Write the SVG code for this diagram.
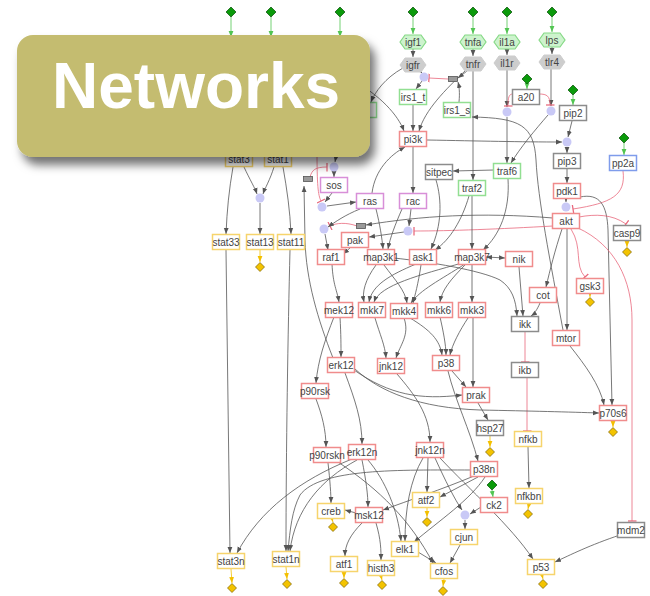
<svg xmlns="http://www.w3.org/2000/svg" xmlns:xlink="http://www.w3.org/1999/xlink" width="650" height="596" viewBox="0 0 650 596">
<style>
.n rect{fill:#fff;stroke-width:1.5}
.r rect{stroke:#f08c8c}.g rect{stroke:#92df92}.m rect{stroke:#d88fd8}.k rect{stroke:#8c8c8c}.y rect{stroke:#f6d46c}.b rect{stroke:#7f9ceb}
text{font-family:"Liberation Sans",Arial,sans-serif;font-size:10px;fill:#444;text-anchor:middle;dominant-baseline:central}
.hg polygon{fill:#cdf3cd;stroke:#86d986;stroke-width:1.2}
.hk polygon{fill:#cdcdcd;stroke:#cdcdcd;stroke-width:1}
.c circle{fill:#c9c9f6}
.sw rect{fill:#9a9a9a;stroke:#555;stroke-width:0.8}
.e path{fill:none;stroke:#555;stroke-width:0.8;marker-end:url(#a)}
.e path.i{stroke:#e8687c;marker-end:url(#t)}
.e path.gr{stroke:#52c552;marker-end:url(#ag)}
.e path.ye{stroke:#f3c000;marker-end:url(#ay)}
.e path.both{marker-start:url(#as)}
</style>
<defs>
<marker id="a" viewBox="0 0 10 10" refX="10" refY="5" markerWidth="6" markerHeight="6" orient="auto" markerUnits="userSpaceOnUse"><path d="M0,1 L10,5 L0,9z" fill="#555"/></marker>
<marker id="as" viewBox="0 0 10 10" refX="0" refY="5" markerWidth="6" markerHeight="6" orient="auto" markerUnits="userSpaceOnUse"><path d="M10,1 L0,5 L10,9z" fill="#555"/></marker>
<marker id="ag" viewBox="0 0 10 10" refX="10" refY="5" markerWidth="6" markerHeight="6" orient="auto" markerUnits="userSpaceOnUse"><path d="M0,1 L10,5 L0,9z" fill="#52c552"/></marker>
<marker id="ay" viewBox="0 0 10 10" refX="10" refY="5" markerWidth="6" markerHeight="6" orient="auto" markerUnits="userSpaceOnUse"><path d="M0,1 L10,5 L0,9z" fill="#f3c000"/></marker>
<marker id="t" viewBox="0 0 4 10" refX="3" refY="5" markerWidth="4" markerHeight="9" orient="auto" markerUnits="userSpaceOnUse"><path d="M3,0 L3,10" stroke="#e8687c" stroke-width="1.4"/></marker>
<path id="dy" d="M0,-4.5 L4.5,0 L0,4.5 L-4.5,0Z" fill="#f3c300" stroke="#7a6000" stroke-width="0.7"/>
<path id="dg" d="M0,-5 L5,0 L0,5 L-5,0Z" fill="#0a9a0a" stroke="#064a06" stroke-width="0.7"/>
<filter id="sh" x="-10%" y="-20%" width="130%" height="150%"><feDropShadow dx="5" dy="8" stdDeviation="5" flood-color="#000" flood-opacity="0.55"/></filter>
</defs>
<rect width="650" height="596" fill="#fff"/>

<g id="connectors" class="e">
<!-- green inputs -->
<path class="gr" d="M231,17 L231,37"/>
<path class="gr" d="M271,17 L271,37"/>
<path class="gr" d="M340,17 L340,37"/>
<path class="gr" d="M413,17 L413,34"/>
<path class="gr" d="M473,17 L473,34"/>
<path class="gr" d="M507,17 L507,34"/>
<path class="gr" d="M552,17 L552,32"/>
<path class="gr" d="M527,84 L527,89"/>
<path class="gr" d="M573,95 L573,105"/>
<path class="gr" d="M624,143 L624,155"/>
<path class="gr" d="M492,490 L493,497"/>
<!-- receptors -->
<path d="M413,49 L413,57"/>
<path d="M473,49 L473,56"/>
<path d="M507,49 L507,55"/>
<path d="M552,47 L552,54"/>
<path d="M419,70 L422,73"/>
<path d="M422,81 L416,89"/>
<path d="M403,68 C385,78 375,92 371,102"/>
<path d="M352,80 C380,95 398,115 404,131"/>
<path d="M466,70 C445,90 425,110 419,131"/>
<path d="M467,71 L458,78"/>
<path d="M459,102 C460,92 459,86 458,82"/>
<path class="i" d="M448,79 L429,78"/>
<path d="M413,105 L413,131"/>
<path d="M473,71 L473,180"/>
<path d="M507,70 L507,107"/>
<path d="M507,117 L507,163"/>
<path d="M551,69 L551,106"/>
<path d="M548,115 C535,130 520,148 511,163"/>
<path class="i" d="M513,94 C509,94 508,97 508,106"/>
<path class="i" d="M539,94 C547,94 550,96 550,105"/>
<path d="M572,121 L568,137"/>
<path d="M427,140 C480,141 520,142 562,142"/>
<path d="M567,147 L567,153"/>
<path d="M567,169 L567,183"/>
<path d="M566,199 L566,202"/>
<path class="i" d="M623,171 C626,195 612,203 573,209"/>
<path d="M580,197 C600,193 607,205 608,230 L612,405"/>
<path d="M570,346 C585,365 600,385 604,405"/>
<path d="M563,330 C550,260 538,200 536,160 C534,125 520,118 472,117"/>
<path d="M562,229 C555,250 550,270 546,287"/>
<path d="M567,229 L567,330"/>
<path class="i" d="M579,217 C595,214 612,214 626,224"/>
<path class="i" d="M571,229 C583,248 574,265 585,277"/>
<path class="i" d="M578,228 C615,245 632,280 632,320 L632,521"/>
<path class="i" d="M553,226 C500,229 450,231 414,231"/>
<path d="M553,218 C480,212 420,216 366,225"/>
<path class="i" d="M357,226 C346,222 336,223 330,226"/>
<!-- ras/raf area -->
<path d="M360,209 C345,215 335,222 328,227"/>
<path d="M325,234 L328,250"/>
<path d="M350,248 L343,254"/>
<path d="M411,209 L409,226"/>
<path d="M404,232 L369,237"/>
<path d="M372,193 C375,170 390,155 405,147"/>
<path d="M413,147 L413,193"/>
<path d="M332,193 L325,202"/>
<path d="M327,206 L356,202"/>
<path d="M334,172 L334,177"/>
<path d="M339,140 L335,162"/>
<path class="i" d="M310,177 C312,170 315,167 327,167"/>
<path class="i" d="M317,150 C317,185 318,195 321,201"/>
<path d="M333,358 C318,320 306,280 305,240 L304,186"/>
<!-- stats -->
<path d="M244,167 C250,180 255,188 257,194"/>
<path d="M274,167 C270,180 265,188 263,194"/>
<path d="M260,203 L260,234"/>
<path d="M233,167 C229,190 227,210 226,234"/>
<path d="M283,167 C287,190 290,210 291,234"/>
<path class="ye" d="M260,250 L260,262"/>
<path d="M226,250 L230,553"/>
<path d="M290,250 C288,330 286,450 286,551"/>
<!-- MAP3K layer -->
<path d="M376,209 C380,225 382,238 383,249"/>
<path d="M402,209 C395,225 390,238 388,249"/>
<path d="M436,180 C442,200 442,225 431,249"/>
<path d="M469,196 C462,220 450,240 435,250"/>
<path d="M472,196 L472,249"/>
<path d="M508,179 C510,210 500,235 483,250"/>
<path d="M494,170 L453,171"/>
<path class="both" d="M486,257 L505,258"/>
<path d="M519,267 L523,316"/>
<path d="M540,303 C537,310 534,314 531,316"/>
<path d="M394,258 C430,262 480,270 500,280 C512,288 516,300 517,316"/>
<path class="i" d="M525,332 L525,362"/>
<path class="i" d="M527,378 L527,431"/>
<path d="M528,447 L529,488"/>
<!-- MAP2K layer -->
<path d="M376,265 C365,280 362,292 364,302"/>
<path d="M384,265 C395,280 405,290 407,303"/>
<path d="M421,265 C418,285 415,295 413,303"/>
<path d="M416,264 C390,275 372,285 369,302"/>
<path d="M462,263 C420,275 380,285 374,302"/>
<path d="M465,264 C440,280 420,290 411,303"/>
<path d="M466,264 C450,280 442,290 440,302"/>
<path d="M472,264 L472,302"/>
<path d="M332,264 C333,285 337,290 339,302"/>
<!-- MAPK layer -->
<path d="M340,317 C341,335 341,345 341,357"/>
<path d="M334,317 C325,340 318,360 316,383"/>
<path d="M375,318 C380,335 385,345 386,358"/>
<path d="M404,318 C410,335 400,345 396,358"/>
<path d="M410,318 C430,330 440,340 442,355"/>
<path d="M440,317 C443,330 446,345 446,355"/>
<path d="M468,318 C460,330 452,345 450,355"/>
<path d="M473,318 L473,387"/>
<path d="M452,371 L466,387"/>
<path d="M354,370 C390,395 420,400 462,395"/>
<path d="M355,369 C380,392 420,408 480,410 C530,411 570,412 599,413"/>
<path d="M345,373 C355,400 362,420 362,444"/>
<path d="M316,399 C322,415 326,430 326,447"/>
<path d="M397,374 C415,395 430,415 430,442"/>
<path d="M448,371 C455,400 470,430 478,461"/>
<path d="M478,403 L488,420"/>
<path class="ye" d="M490,436 L490,447"/>
<path class="ye" d="M613,421 L613,427"/>
<path class="ye" d="M627,241 L627,247"/>
<path class="ye" d="M590,294 L590,297"/>
<!-- nuclear -->
<path d="M328,463 C330,480 331,495 331,503"/>
<path d="M338,462 C380,490 410,520 433,563"/>
<path d="M362,460 C366,480 368,495 368,507"/>
<path d="M368,460 C385,480 398,510 401,541"/>
<path d="M352,459 C300,480 260,510 237,553"/>
<path d="M357,460 C320,480 295,510 290,551"/>
<path d="M471,470 C400,470 320,468 300,495 C292,510 290,530 288,551"/>
<path d="M474,476 C440,490 410,500 383,510"/>
<path d="M478,477 L440,497"/>
<path d="M485,477 C470,500 440,520 414,542"/>
<path d="M428,458 L427,492"/>
<path d="M423,458 C410,480 405,510 405,541"/>
<path d="M435,458 C445,480 455,500 462,510"/>
<path d="M440,458 C470,490 510,525 533,559"/>
<path d="M481,507 L470,514"/>
<path d="M465,520 L465,529"/>
<path d="M460,545 L450,563"/>
<path d="M418,552 L436,563"/>
<path d="M356,513 L345,510"/>
<path d="M362,523 C350,535 345,545 345,556"/>
<path d="M376,523 C381,540 381,550 381,560"/>
<path d="M620,535 C590,545 570,555 555,562"/>
<path class="ye" d="M332,519 L333,522"/>
<path class="ye" d="M427,508 L427,517"/>
<path class="ye" d="M444,579 L443,586"/>
<path class="ye" d="M381,576 L382,580"/>
<path class="ye" d="M344,572 L344,578"/>
<path class="ye" d="M286,567 L287,579"/>
<path class="ye" d="M231,569 L232,583"/>
<path class="ye" d="M542,575 L543,579"/>
<path class="ye" d="M529,504 L528,509"/>
</g>

<g id="inputs">
<use href="#dg" x="231" y="12"/><use href="#dg" x="271" y="12"/><use href="#dg" x="340" y="12"/>
<use href="#dg" x="413" y="12"/><use href="#dg" x="473" y="12"/><use href="#dg" x="507" y="12"/><use href="#dg" x="552" y="12"/>
<use href="#dg" x="527" y="79"/><use href="#dg" x="573" y="90"/><use href="#dg" x="624" y="138"/><use href="#dg" x="492" y="485"/>
</g>
<g id="outputs">
<use href="#dy" x="260" y="267"/><use href="#dy" x="627" y="252"/><use href="#dy" x="590" y="302"/>
<use href="#dy" x="490" y="452"/><use href="#dy" x="613" y="432"/><use href="#dy" x="528" y="514"/>
<use href="#dy" x="333" y="527"/><use href="#dy" x="427" y="522"/><use href="#dy" x="443" y="591"/>
<use href="#dy" x="382" y="585"/><use href="#dy" x="344" y="583"/><use href="#dy" x="287" y="584"/>
<use href="#dy" x="232" y="588"/><use href="#dy" x="543" y="584"/>
</g>

<g id="n-igf1" class="hg"><polygon points="400,42 405,35 421,35 426,42 421,49 405,49"/><text x="413" y="42">igf1</text></g>
<g id="n-igfr" class="hk"><polygon points="400,65 405,58 421,58 426,65 421,72 405,72"/><text x="413" y="65">igfr</text></g>
<g id="n-tnfa" class="hg"><polygon points="460,42 465,35 481,35 486,42 481,49 465,49"/><text x="473" y="42">tnfa</text></g>
<g id="n-tnfr" class="hk"><polygon points="460,64 465,57 481,57 486,64 481,71 465,71"/><text x="473" y="64">tnfr</text></g>
<g id="n-il1a" class="hg"><polygon points="494,42 499,35 515,35 520,42 515,49 499,49"/><text x="507" y="42">il1a</text></g>
<g id="n-il1r" class="hk"><polygon points="494,63 499,56 515,56 520,63 515,70 499,70"/><text x="507" y="63">il1r</text></g>
<g id="n-lps" class="hg"><polygon points="539,40 544,33 560,33 565,40 560,47 544,47"/><text x="552" y="40">lps</text></g>
<g id="n-tlr4" class="hk"><polygon points="539,62 544,55 560,55 565,62 560,69 544,69"/><text x="552" y="62">tlr4</text></g>

<g id="c-irs" class="c"><circle cx="424" cy="77" r="4.5"/></g>
<g id="c-il1" class="c"><circle cx="507" cy="112" r="4.5"/></g>
<g id="c-tlr" class="c"><circle cx="551" cy="111" r="4.5"/></g>
<g id="c-pip" class="c"><circle cx="567" cy="142" r="4.5"/></g>
<g id="c-akt" class="c"><circle cx="566" cy="207" r="4.5"/></g>
<g id="c-sos" class="c"><circle cx="334" cy="167" r="4.5"/></g>
<g id="c-ras" class="c"><circle cx="322" cy="207" r="4.5"/></g>
<g id="c-raf" class="c"><circle cx="324" cy="229" r="4.5"/></g>
<g id="c-pak" class="c"><circle cx="408" cy="231" r="4.5"/></g>
<g id="c-stat" class="c"><circle cx="260" cy="198" r="4.5"/></g>
<g id="c-cjun" class="c"><circle cx="465" cy="515" r="4.5"/></g>

<g id="sw-tnf" class="sw"><rect x="448.5" y="76.5" width="9" height="5"/></g>
<g id="sw-sos" class="sw"><rect x="303.5" y="176.5" width="9" height="5"/></g>
<g id="sw-raf" class="sw"><rect x="356.5" y="223.5" width="9" height="5"/></g>

<g id="n-hidden" class="n g"><rect x="349.5" y="102.5" width="27" height="15"/></g>
<g id="n-stat3" class="n y"><rect x="225.5" y="151.5" width="27" height="15"/><text x="239" y="159">stat3</text></g>
<g id="n-stat1" class="n y"><rect x="264.5" y="151.5" width="27" height="15"/><text x="278" y="159">stat1</text></g>
<g id="n-stat33" class="n y"><rect x="212.5" y="234.5" width="27" height="15"/><text x="226" y="242">stat33</text></g>
<g id="n-stat13" class="n y"><rect x="246.5" y="234.5" width="27" height="15"/><text x="260" y="242">stat13</text></g>
<g id="n-stat11" class="n y"><rect x="277.5" y="234.5" width="27" height="15"/><text x="291" y="242">stat11</text></g>
<g id="n-stat3n" class="n y"><rect x="217.5" y="553.5" width="27" height="15"/><text x="231" y="561">stat3n</text></g>
<g id="n-stat1n" class="n y"><rect x="272.5" y="551.5" width="27" height="15"/><text x="286" y="559">stat1n</text></g>
<g id="n-irs1_t" class="n g"><rect x="399.5" y="89.5" width="27" height="15"/><text x="413" y="97">irs1_t</text></g>
<g id="n-irs1_s" class="n g"><rect x="443.5" y="102.5" width="27" height="15"/><text x="457" y="110">irs1_s</text></g>
<g id="n-a20" class="n k"><rect x="512.5" y="89.5" width="27" height="15"/><text x="526" y="97">a20</text></g>
<g id="n-pip2" class="n k"><rect x="559.5" y="105.5" width="27" height="15"/><text x="573" y="113">pip2</text></g>
<g id="n-pi3k" class="n r"><rect x="399.5" y="131.5" width="27" height="15"/><text x="413" y="139">pi3k</text></g>
<g id="n-pip3" class="n k"><rect x="553.5" y="153.5" width="27" height="15"/><text x="567" y="161">pip3</text></g>
<g id="n-pp2a" class="n b"><rect x="609.5" y="155.5" width="27" height="15"/><text x="623" y="163">pp2a</text></g>
<g id="n-sitpec" class="n k"><rect x="425.5" y="164.5" width="27" height="15"/><text x="439" y="172">sitpec</text></g>
<g id="n-traf6" class="n g"><rect x="493.5" y="163.5" width="27" height="15"/><text x="507" y="171">traf6</text></g>
<g id="n-traf2" class="n g"><rect x="458.5" y="180.5" width="27" height="15"/><text x="472" y="188">traf2</text></g>
<g id="n-pdk1" class="n r"><rect x="553.5" y="183.5" width="27" height="15"/><text x="567" y="191">pdk1</text></g>
<g id="n-akt" class="n r"><rect x="552.5" y="213.5" width="27" height="15"/><text x="566" y="221">akt</text></g>
<g id="n-casp9" class="n k"><rect x="613.5" y="225.5" width="27" height="15"/><text x="627" y="233">casp9</text></g>
<g id="n-sos" class="n m"><rect x="320.5" y="177.5" width="27" height="15"/><text x="334" y="185">sos</text></g>
<g id="n-ras" class="n m"><rect x="356.5" y="193.5" width="27" height="15"/><text x="370" y="201">ras</text></g>
<g id="n-rac" class="n m"><rect x="399.5" y="193.5" width="27" height="15"/><text x="413" y="201">rac</text></g>
<g id="n-pak" class="n r"><rect x="341.5" y="232.5" width="27" height="15"/><text x="355" y="240">pak</text></g>
<g id="n-raf1" class="n r"><rect x="317.5" y="249.5" width="27" height="15"/><text x="331" y="257">raf1</text></g>
<g id="n-map3k1" class="n r"><rect x="367.5" y="249.5" width="27" height="15"/><text x="381" y="257">map3k1</text></g>
<g id="n-ask1" class="n r"><rect x="409.5" y="249.5" width="27" height="15"/><text x="423" y="257">ask1</text></g>
<g id="n-map3k7" class="n r"><rect x="458.5" y="249.5" width="27" height="15"/><text x="472" y="257">map3k7</text></g>
<g id="n-nik" class="n r"><rect x="505.5" y="251.5" width="27" height="15"/><text x="519" y="259">nik</text></g>
<g id="n-gsk3" class="n r"><rect x="576.5" y="278.5" width="27" height="15"/><text x="590" y="286">gsk3</text></g>
<g id="n-cot" class="n r"><rect x="529.5" y="287.5" width="27" height="15"/><text x="543" y="295">cot</text></g>
<g id="n-mek12" class="n r"><rect x="325.5" y="302.5" width="27" height="15"/><text x="339" y="310">mek12</text></g>
<g id="n-mkk7" class="n r"><rect x="358.5" y="302.5" width="27" height="15"/><text x="372" y="310">mkk7</text></g>
<g id="n-mkk4" class="n r"><rect x="390.5" y="303.5" width="27" height="15"/><text x="404" y="311">mkk4</text></g>
<g id="n-mkk6" class="n r"><rect x="425.5" y="302.5" width="27" height="15"/><text x="439" y="310">mkk6</text></g>
<g id="n-mkk3" class="n r"><rect x="458.5" y="302.5" width="27" height="15"/><text x="472" y="310">mkk3</text></g>
<g id="n-ikk" class="n k"><rect x="511.5" y="316.5" width="27" height="15"/><text x="525" y="324">ikk</text></g>
<g id="n-mtor" class="n r"><rect x="552.5" y="330.5" width="27" height="15"/><text x="566" y="338">mtor</text></g>
<g id="n-erk12" class="n r"><rect x="327.5" y="357.5" width="27" height="15"/><text x="341" y="365">erk12</text></g>
<g id="n-jnk12" class="n r"><rect x="377.5" y="358.5" width="27" height="15"/><text x="391" y="366">jnk12</text></g>
<g id="n-p38" class="n r"><rect x="432.5" y="355.5" width="27" height="15"/><text x="446" y="363">p38</text></g>
<g id="n-ikb" class="n k"><rect x="511.5" y="362.5" width="27" height="15"/><text x="525" y="370">ikb</text></g>
<g id="n-p90rsk" class="n r"><rect x="301.5" y="383.5" width="27" height="15"/><text x="315" y="391">p90rsk</text></g>
<g id="n-prak" class="n r"><rect x="462.5" y="387.5" width="27" height="15"/><text x="476" y="395">prak</text></g>
<g id="n-p70s6" class="n r"><rect x="599.5" y="405.5" width="27" height="15"/><text x="613" y="413">p70s6</text></g>
<g id="n-hsp27" class="n k"><rect x="476.5" y="420.5" width="27" height="15"/><text x="490" y="428">hsp27</text></g>
<g id="n-nfkb" class="n y"><rect x="514.5" y="431.5" width="27" height="15"/><text x="528" y="439">nfkb</text></g>
<g id="n-erk12n" class="n r"><rect x="348.5" y="444.5" width="27" height="15"/><text x="362" y="452">erk12n</text></g>
<g id="n-p90rskn" class="n r"><rect x="313.5" y="447.5" width="27" height="15"/><text x="327" y="455">p90rskn</text></g>
<g id="n-jnk12n" class="n r"><rect x="416.5" y="442.5" width="27" height="15"/><text x="430" y="450">jnk12n</text></g>
<g id="n-p38n" class="n r"><rect x="470.5" y="461.5" width="27" height="15"/><text x="484" y="469">p38n</text></g>
<g id="n-nfkbn" class="n y"><rect x="515.5" y="488.5" width="27" height="15"/><text x="529" y="496">nfkbn</text></g>
<g id="n-ck2" class="n r"><rect x="480.5" y="497.5" width="27" height="15"/><text x="494" y="505">ck2</text></g>
<g id="n-atf2" class="n y"><rect x="412.5" y="492.5" width="27" height="15"/><text x="426" y="500">atf2</text></g>
<g id="n-creb" class="n y"><rect x="317.5" y="503.5" width="27" height="15"/><text x="331" y="511">creb</text></g>
<g id="n-msk12" class="n r"><rect x="355.5" y="507.5" width="27" height="15"/><text x="369" y="515">msk12</text></g>
<g id="n-mdm2" class="n k"><rect x="617.5" y="522.5" width="27" height="15"/><text x="631" y="530">mdm2</text></g>
<g id="n-cjun" class="n y"><rect x="450.5" y="529.5" width="27" height="15"/><text x="464" y="537">cjun</text></g>
<g id="n-elk1" class="n y"><rect x="391.5" y="541.5" width="27" height="15"/><text x="405" y="549">elk1</text></g>
<g id="n-atf1" class="n y"><rect x="330.5" y="556.5" width="27" height="15"/><text x="344" y="564">atf1</text></g>
<g id="n-histh3" class="n y"><rect x="367.5" y="560.5" width="27" height="15"/><text x="381" y="568">histh3</text></g>
<g id="n-cfos" class="n y"><rect x="430.5" y="563.5" width="27" height="15"/><text x="444" y="571">cfos</text></g>
<g id="n-p53" class="n y"><rect x="527.5" y="559.5" width="27" height="15"/><text x="541" y="567">p53</text></g>

<g id="banner">
<rect x="17" y="35" width="353" height="122" rx="16" fill="#c4bc70" filter="url(#sh)"/>
<text x="52" y="108" style="font-family:'Liberation Sans',Arial,sans-serif;font-size:64px;font-weight:bold;fill:#fff;text-anchor:start;dominant-baseline:auto">Networks</text>
</g>
</svg>
